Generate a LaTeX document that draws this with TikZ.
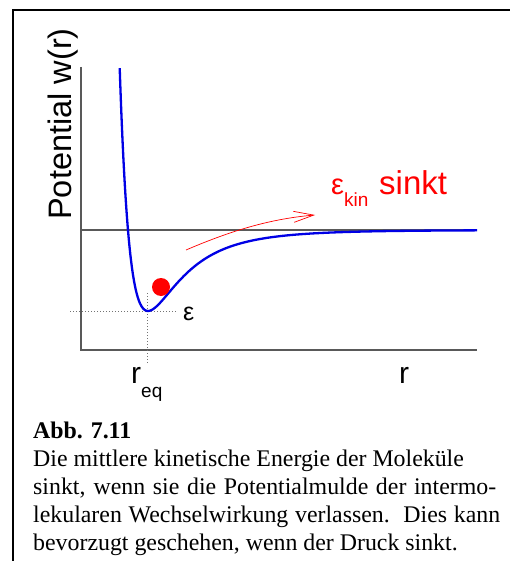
\documentclass[tikz,border=0pt]{standalone}
\usepackage{fontspec}
\setmainfont{Liberation Serif}
\newfontfamily\arial{Liberation Sans}
\usetikzlibrary{arrows.meta}
\begin{document}
\begin{tikzpicture}[x=1pt,y=-1pt,
  axisline/.style={draw=black!65,line width=1.4pt},
  curve/.style={draw=blue!90!black,line width=2.3pt},
  guide/.style={draw=black!55,line width=0.9pt,dash pattern=on 1pt off 2pt},
  lbl/.style={inner sep=0pt,font=\arial\fontsize{30}{34}\selectfont},
  captext/.style={inner sep=0pt,anchor=base west,font=\fontsize{23.85}{27}\selectfont},
  declare function={lj(\t)=230-81*(pow(183.5/(\t+35.5),12)-2*pow(183.5/(\t+35.5),6));}]
\useasboundingbox (0,0) rectangle (510,561);
% frame
\draw[line width=2.2pt] (13,580) -- (13,10) -- (530,10);
% axes
\coordinate (ytop) at (81,67);
\coordinate (orig) at (81,350);
\coordinate (xend) at (477,350);
\coordinate (zl) at (81,230);
\coordinate (zr) at (477,230);
\draw[axisline] (ytop) -- (orig) -- (xend);
\draw[axisline] (zl) -- (zr);
% guides
\coordinate (hl) at (70,311);
\coordinate (hr) at (176,311);
\coordinate (vt) at (147,293);
\coordinate (vb) at (147,363);
\draw[guide] (hl) -- (hr);
\draw[guide] (vt) -- (vb);
% potential curve
\draw[curve,line join=round] plot[domain=119.7:140,samples=120] ({\x},{lj(\x)})
  -- plot[domain=140:477,samples=200] ({\x},{lj(\x)});
% ball
\fill[red] (161,287) circle[radius=9pt];
% arrow
\coordinate (as) at (186,250);
\coordinate (ae) at (315,215);
\draw[red,line width=0.7pt,-{Straight Barb[length=20pt,width=11pt,line width=0.7pt]}]
  (as) .. controls (228,232) and (268,219) .. (ae);
% labels
\node[lbl,anchor=base,rotate=90,font=\arial\fontsize{32.5}{36}\selectfont] (ylab) at (71,124) {Potential w(r)};
\node[lbl,anchor=base west,text=red,font=\arial\fontsize{29}{34}\selectfont] (ekin) at (331,195) {ε\raisebox{-12pt}{\fontsize{19}{22}\selectfont kin}};
\node[lbl,anchor=base west,text=red,font=\arial\fontsize{33}{38}\selectfont] (sinkt) at (379,195) {sinkt};
\node[lbl,anchor=base west,font=\arial\fontsize{25}{30}\selectfont] (eps) at (183,320) {ε};
\node[lbl,anchor=base west] (req) at (131,383) {r\raisebox{-14pt}{\fontsize{19}{22}\selectfont eq}};
\node[lbl,anchor=base west] (rlab) at (399,383) {r};
% caption
\node[captext] (c0) at (33,438) {\bfseries Abb. 7.11};
\node[captext] (c1) at (33,466) {Die mittlere kinetische Energie der Moleküle};
\node[captext] (c2) at (33,494) {\makebox[463pt][s]{sinkt, wenn sie die Potentialmulde der intermo-}};
\node[captext] (c3) at (33,522) {\makebox[467pt][s]{lekularen Wechselwirkung verlassen.\ \ Dies kann}};
\node[captext] (c4) at (33,550) {bevorzugt geschehen, wenn der Druck sinkt.};
\end{tikzpicture}
\end{document}
